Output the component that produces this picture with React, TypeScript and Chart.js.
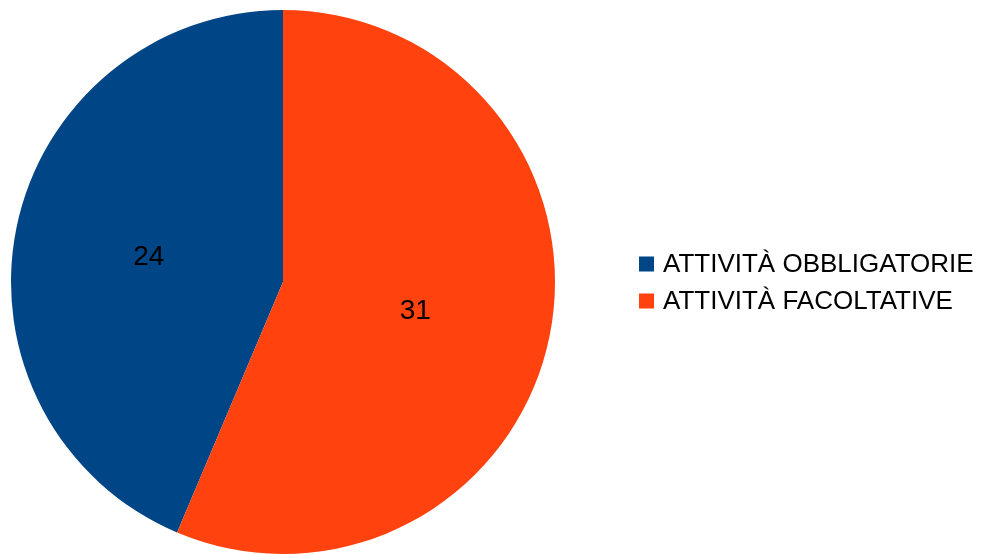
import React, { useEffect, useRef } from "react";
import { Chart, registerables } from "chart.js";

Chart.register(...registerables);

const categories = ["ATTIVITÀ OBBLIGATORIE", "ATTIVITÀ FACOLTATIVE"];
const values = [24, 31];
const colors = ["#004586", "#ff420e"];

const FONT = "'Liberation Sans', Arial, sans-serif";

const labelsPlugin = {
  id: "sliceLabels",
  afterDatasetsDraw(chart: any) {
    const ctx = chart.ctx;
    const meta = chart.getDatasetMeta(0);
    ctx.save();
    ctx.fillStyle = "#000000";
    ctx.font = `28px ${FONT}`;
    ctx.textAlign = "center";
    ctx.textBaseline = "middle";
    meta.data.forEach((arc: any, i: number) => {
      const p = arc.tooltipPosition();
      ctx.fillText(String(values[i]), p.x - 1, p.y + 2);
    });
    ctx.restore();
  },
};

const legendPlugin = {
  id: "customLegend",
  afterDraw(chart: any) {
    const ctx = chart.ctx;
    ctx.save();
    const x0 = 639;
    const yStart = 264;
    const rowH = 37;
    const box = 15;
    ctx.font = `26px ${FONT}`;
    ctx.textAlign = "left";
    ctx.textBaseline = "middle";
    categories.forEach((c, i) => {
      const y = yStart + i * rowH;
      ctx.fillStyle = colors[i];
      ctx.fillRect(x0, y - box / 2, box, box);
      ctx.fillStyle = "#000000";
      ctx.fillText(c, x0 + 24, y + 1);
    });
    ctx.restore();
  },
};

export default function App() {
  const ref = useRef<HTMLCanvasElement>(null);
  useEffect(() => {
    document.body.style.margin = "0";
    const total = values.reduce((a, b) => a + b, 0);
    const chart = new Chart(ref.current!, {
      type: "pie",
      data: {
        labels: categories,
        datasets: [
          {
            data: values,
            backgroundColor: colors,
            borderWidth: 0,
          },
        ],
      },
      options: {
        responsive: false,
        animation: false,
        rotation: (-360 * values[0]) / total,
        layout: { padding: { left: 11, top: 10, right: 428, bottom: 0 } },
        plugins: {
          legend: { display: false },
          tooltip: { enabled: false },
        },
      },
      plugins: [labelsPlugin, legendPlugin],
    });
    return () => chart.destroy();
  }, []);
  return (
    <div style={{ width: 983, height: 554, background: "#ffffff" }}>
      <canvas ref={ref} width={983} height={554} style={{ display: "block" }} />
    </div>
  );
}
